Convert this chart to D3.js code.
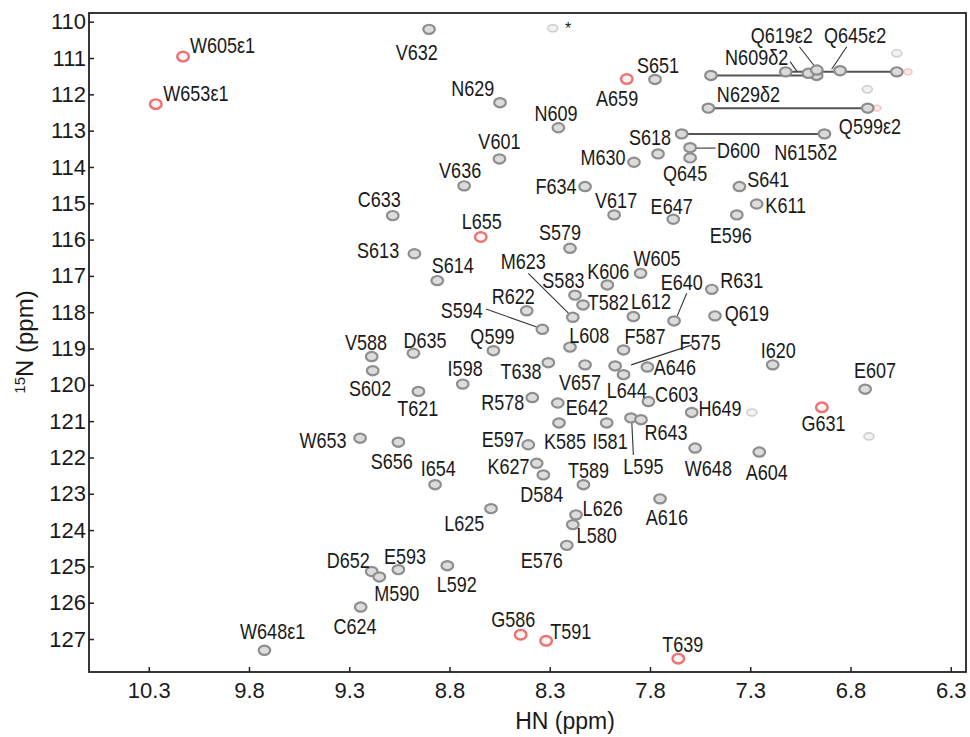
<!DOCTYPE html>
<html>
<head>
  <title>HSQC spectrum</title>
  <script src="https://d3js.org/d3.v7.min.js"></script>
  <style>
    body { margin: 0; background: #fff; }
    text { font-family: "Liberation Sans", Arial, sans-serif; fill: #1a1a1a; }
  </style>
</head>
<body>
  <div id="chart"></div>

  <script>
    // axis ticks (ppm)
    const hnTicks = [10.3, 9.8, 9.3, 8.8, 8.3, 7.8, 7.3, 6.8, 6.3];
    const nTicks = d3.range(110, 128);

    // backbone peaks, gray contours: [name, HN, 15N]
    const grayPeaks = [
      ["V632", 8.902, 110.21], ["S651", 7.775, 111.59], ["N629", 8.548, 112.23],
      ["N609", 8.257, 112.92], ["V601", 8.551, 113.78], ["M630", 7.880, 113.87],
      ["V636", 8.727, 114.52], ["F634", 8.124, 114.54], ["V617", 7.979, 115.32],
      ["C633", 9.083, 115.34], ["S579", 8.199, 116.24], ["S613", 8.975, 116.39],
      ["S618", 7.760, 113.64], ["D600", 7.600, 113.47], ["Q645", 7.600, 113.75],
      ["S641", 7.354, 114.54], ["K611", 7.268, 115.02], ["E596", 7.367, 115.32],
      ["E647", 7.684, 115.44], ["S614", 8.861, 117.13], ["M623", 8.185, 118.14],
      ["S583", 8.174, 117.53], ["T582", 8.134, 117.80], ["K606", 8.013, 117.25],
      ["W605", 7.847, 116.93], ["L612", 7.883, 118.12], ["R622", 8.415, 117.96],
      ["S594", 8.337, 118.47], ["Q599", 8.581, 119.06], ["L608", 8.199, 118.96],
      ["F587", 7.932, 119.04], ["F575", 7.974, 119.48], ["L644", 7.932, 119.72],
      ["A646", 7.813, 119.51], ["V657", 8.124, 119.45], ["T638", 8.307, 119.39],
      ["I598", 8.734, 119.98], ["V588", 9.188, 119.22], ["S602", 9.183, 119.61],
      ["D635", 8.980, 119.13], ["T621", 8.955, 120.18], ["R578", 8.387, 120.35],
      ["E642", 8.260, 120.50], ["W653", 9.246, 121.47], ["S656", 9.055, 121.58],
      ["I654", 8.872, 122.75], ["E597", 8.407, 121.65], ["K585", 8.254, 121.05],
      ["I581", 8.016, 121.05], ["L595", 7.895, 120.91], ["R643", 7.845, 120.96],
      ["K627", 8.365, 122.16], ["T589", 8.132, 122.75], ["D584", 8.332, 122.48],
      ["C603", 7.808, 120.46], ["H649", 7.592, 120.76], ["W648", 7.575, 121.74],
      ["A604", 7.255, 121.85], ["I620", 7.188, 119.45], ["E607", 6.727, 120.12],
      ["R631", 7.492, 117.37], ["Q619", 7.476, 118.10], ["E640", 7.680, 118.24],
      ["L625", 8.593, 123.41], ["L626", 8.169, 123.58], ["L580", 8.185, 123.85],
      ["E576", 8.215, 124.42], ["D652", 9.188, 125.14], ["M590", 9.150, 125.29],
      ["E593", 9.055, 125.09], ["L592", 8.811, 124.98], ["C624", 9.243, 126.12],
      ["W648ε1", 9.723, 127.31], ["A616", 7.750, 123.14]
    ];

    // peaks in red contours
    const redPeaks = [
      ["W605ε1", 10.129, 110.96], ["W653ε1", 10.265, 112.27], ["A659", 7.916, 111.58],
      ["L655", 8.644, 115.93], ["G631", 6.943, 120.62], ["G586", 8.445, 126.88],
      ["T591", 8.318, 127.05], ["T639", 7.659, 127.54]
    ];

    // side chain NH2 pairs: [HN a, HN b, 15N]
    const sideChainPairs = [
      [7.496, 6.969, 111.48], [7.123, 6.569, 111.38],
      [7.509, 6.714, 112.38], [7.642, 6.930, 113.09]
    ];
    const sideChainExtra = [[7.010, 111.42], [6.968, 111.33], [6.852, 111.35]];

    // weak peaks
    const weakGray = [[8.285, 110.18], [7.292, 120.76], [6.716, 111.86], [6.569, 110.87], [6.708, 121.42]];
    const weakRed = [[6.513, 111.38], [6.669, 112.38]];

    // label centres: [text, HN, 15N]
    const labels = [
      ["W605ε1", 9.932, 110.64], ["W653ε1", 10.065, 111.96], ["V632", 8.963, 110.83],
      ["A659", 7.964, 112.09], ["S651", 7.760, 111.19], ["N629", 8.684, 111.83],
      ["N609", 8.269, 112.52], ["V601", 8.551, 113.28], ["M630", 8.034, 113.74],
      ["V636", 8.747, 114.08], ["F634", 8.269, 114.52], ["V617", 7.969, 114.91],
      ["C633", 9.150, 114.89], ["L655", 8.639, 115.49], ["S579", 8.249, 115.80],
      ["S613", 9.156, 116.28], ["Q619ε2", 7.143, 110.37], ["Q645ε2", 6.777, 110.37],
      ["N609δ2", 7.268, 110.98], ["N629δ2", 7.309, 111.99], ["Q599ε2", 6.703, 112.87],
      ["N615δ2", 7.023, 113.58], ["S618", 7.800, 113.17], ["D600", 7.359, 113.53],
      ["Q645", 7.625, 114.17], ["S641", 7.210, 114.33], ["K611", 7.123, 115.06],
      ["E596", 7.397, 115.87], ["E647", 7.692, 115.09], ["S614", 8.784, 116.70],
      ["M623", 8.432, 116.58], ["S583", 8.232, 117.11], ["K606", 8.008, 116.88],
      ["W605", 7.765, 116.50], ["T582", 8.008, 117.71], ["L612", 7.795, 117.69],
      ["R622", 8.482, 117.55], ["S594", 8.739, 117.95], ["Q599", 8.586, 118.67],
      ["L608", 8.103, 118.62], ["F587", 7.825, 118.67], ["F575", 7.550, 118.81],
      ["L644", 7.916, 120.14], ["A646", 7.676, 119.50], ["V657", 8.149, 119.91],
      ["T638", 8.443, 119.61], ["I598", 8.722, 119.54], ["V588", 9.216, 118.81],
      ["S602", 9.196, 120.09], ["D635", 8.922, 118.76], ["T621", 8.958, 120.64],
      ["R578", 8.534, 120.48], ["E642", 8.115, 120.60], ["W653", 9.431, 121.51],
      ["S656", 9.088, 122.11], ["I654", 8.856, 122.29], ["E597", 8.534, 121.49],
      ["K585", 8.224, 121.56], ["I581", 7.999, 121.56], ["L595", 7.833, 122.25],
      ["R643", 7.720, 121.29], ["K627", 8.506, 122.25], ["T589", 8.107, 122.34],
      ["D584", 8.340, 123.00], ["C603", 7.667, 120.25], ["H649", 7.451, 120.64],
      ["W648", 7.509, 122.28], ["A604", 7.218, 122.41], ["I620", 7.160, 119.04],
      ["E607", 6.678, 119.59], ["G631", 6.935, 121.05], ["R631", 7.342, 117.11],
      ["Q619", 7.317, 118.01], ["E640", 7.642, 117.16], ["L625", 8.726, 123.81],
      ["L626", 8.036, 123.39], ["L580", 8.066, 124.13], ["E576", 8.340, 124.82],
      ["D652", 9.305, 124.82], ["M590", 9.063, 125.73], ["E593", 9.022, 124.71],
      ["L592", 8.764, 125.48], ["C624", 9.271, 126.65], ["G586", 8.482, 126.45],
      ["T591", 8.195, 126.79], ["W648ε1", 9.682, 126.79], ["A616", 7.716, 123.63],
      ["T639", 7.637, 127.13]
    ];

    // leader lines: [HN1, N1, HN2, N2]
    const leaders = [
      [8.407, 116.93, 8.202, 118.05], [8.618, 117.91, 8.365, 118.41],
      [7.590, 118.90, 7.894, 119.45], [7.883, 121.93, 7.891, 121.01],
      [7.617, 117.48, 7.664, 118.10], [7.584, 113.48, 7.473, 113.48],
      [7.055, 110.69, 6.977, 111.24], [6.819, 110.69, 6.894, 111.31],
      [7.101, 111.10, 7.068, 111.36]
    ];

    const width = 970, height = 737;
    const margin = {top: 13, right: 4, bottom: 65, left: 89};

    const svg = d3.select("#chart").append("svg")
      .attr("width", width)
      .attr("height", height);

    const x = d3.scaleLinear().domain([10.598, 6.224]).range([margin.left, width - margin.right]);
    const y = d3.scaleLinear().domain([109.76, 127.908]).range([margin.top, height - margin.bottom]);

    // axes
    const xAxis = svg.append("g")
      .attr("transform", `translate(0,${height - margin.bottom})`)
      .call(d3.axisBottom(x).tickValues(hnTicks).tickFormat(d3.format(".1f"))
        .tickSize(-5).tickSizeOuter(0).tickPadding(10));
    const yAxis = svg.append("g")
      .attr("transform", `translate(${margin.left},0)`)
      .call(d3.axisLeft(y).tickValues(nTicks).tickFormat(d3.format("d"))
        .tickSize(-5).tickSizeOuter(0).tickPadding(3));

    [xAxis, yAxis].forEach(g => {
      g.select(".domain").remove();
      g.selectAll(".tick line").attr("stroke", "#222").attr("stroke-width", 1.5);
      g.selectAll(".tick text").attr("font-size", 22).attr("fill", "#1a1a1a")
        .style("font-family", "'Liberation Sans', Arial, sans-serif");
    });

    svg.append("rect")
      .attr("x", margin.left).attr("y", margin.top)
      .attr("width", width - margin.left - margin.right)
      .attr("height", height - margin.top - margin.bottom)
      .attr("fill", "none").attr("stroke", "#222").attr("stroke-width", 1.8);

    // axis titles
    svg.append("text")
      .attr("x", 565).attr("y", 729)
      .attr("text-anchor", "middle").attr("font-size", 23)
      .text("HN (ppm)");

    const yTitle = svg.append("text")
      .attr("transform", "translate(33,342) rotate(-90)")
      .attr("text-anchor", "middle").attr("font-size", 24);
    yTitle.append("tspan").attr("font-size", 15).attr("dy", -8).text("15");
    yTitle.append("tspan").attr("dy", 8).text("N (ppm)");

    const plot = svg.append("g");

    // side chain pair lines
    plot.selectAll("line.pair").data(sideChainPairs).join("line")
      .attr("class", "pair")
      .attr("x1", d => x(d[0])).attr("x2", d => x(d[1]))
      .attr("y1", d => y(d[2])).attr("y2", d => y(d[2]))
      .attr("stroke", "#555").attr("stroke-width", 2);

    // leader lines
    plot.selectAll("line.leader").data(leaders).join("line")
      .attr("class", "leader")
      .attr("x1", d => x(d[0])).attr("y1", d => y(d[1]))
      .attr("x2", d => x(d[2])).attr("y2", d => y(d[3]))
      .attr("stroke", "#333").attr("stroke-width", 1.1);

    const peak = (sel, fill, stroke, rx, ry, sw) => sel
      .attr("cx", d => x(d[d.length - 2])).attr("cy", d => y(d[d.length - 1]))
      .attr("rx", rx).attr("ry", ry)
      .attr("fill", fill).attr("stroke", stroke).attr("stroke-width", sw);

    peak(plot.selectAll("ellipse.weak").data(weakGray).join("ellipse").attr("class", "weak"),
      "#f2f2f2", "#cfcfcf", 5, 3.5, 1.6);
    peak(plot.selectAll("ellipse.weakred").data(weakRed).join("ellipse").attr("class", "weakred"),
      "#fde8e8", "#f6c0c0", 4, 3, 1.4);

    const sideEnds = sideChainPairs.flatMap(d => [[d[0], d[2]], [d[1], d[2]]]).concat(sideChainExtra);
    peak(plot.selectAll("ellipse.side").data(sideEnds).join("ellipse").attr("class", "side"),
      "#dadada", "#8c8c8c", 5.8, 4.6, 2.2);

    peak(plot.selectAll("ellipse.gray").data(grayPeaks).join("ellipse").attr("class", "gray"),
      "#dcdcdc", "#8e8e8e", 5.8, 4.6, 2.2);
    peak(plot.selectAll("ellipse.red").data(redPeaks).join("ellipse").attr("class", "red"),
      "#fff3f3", "#ee7272", 5.8, 4.8, 2.4);

    // labels (narrow face)
    plot.selectAll("text.lbl").data(labels).join("text")
      .attr("class", "lbl")
      .attr("transform", d => `translate(${x(d[1])},${y(d[2])}) scale(0.82,1)`)
      .attr("text-anchor", "middle").attr("dy", "0.36em")
      .attr("font-size", 22)
      .text(d => d[0]);

    plot.append("text")
      .attr("x", x(8.209)).attr("y", y(110.12))
      .attr("text-anchor", "middle").attr("dy", "0.5em")
      .attr("font-size", 16)
      .text("*");
  </script>
</body>
</html>
